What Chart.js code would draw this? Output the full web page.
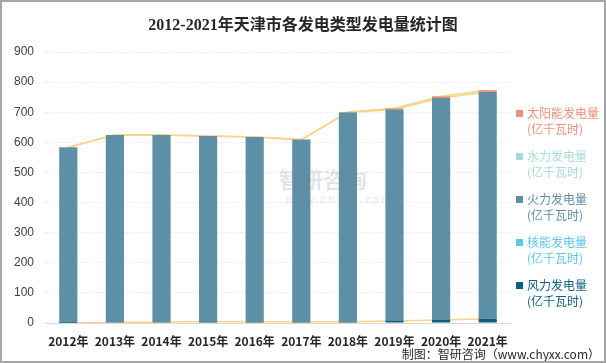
<!DOCTYPE html>
<html>
<head>
<meta charset="utf-8">
<script src="https://cdn.jsdelivr.net/npm/chart.js@4"></script>
<style>
  html, body { margin: 0; padding: 0; background: #fff; }
  #wrap { position: relative; width: 602px; height: 359px; border: 2px solid #a6a6a6; overflow: hidden; }
  #box { position: absolute; left: -2px; top: -2px; width: 606px; height: 363px; }
  #title { position: absolute; left: 0; top: 9px; width: 602px; text-align: center;
    font: bold 16px "Liberation Serif", "Noto Sans CJK SC", serif; color: #262626; }
  #legend { position: absolute; left: 514px; top: 103px; font: 12px "Noto Sans CJK SC", sans-serif; }
  .item { position: relative; height: 43px; padding-left: 11px; line-height: 16px; }
  .item i { position: absolute; left: 0; top: 5px; width: 7px; height: 7px; }
  #foot { position: absolute; right: 4px; top: 343px; font: 12px "Noto Sans CJK SC", sans-serif; color: #262626; }
  #mark { position: absolute; left: 262px; top: 160px; color: rgba(120,135,150,0.22); font: bold 22px "Noto Sans CJK SC", sans-serif; }
  #mark span { display: block; font: 10px "DejaVu Sans", sans-serif; letter-spacing: 2px; margin-left: 22px; }
</style>
</head>
<body>
<div id="wrap">
  <div id="box"><canvas id="chart" width="606" height="363"></canvas></div>
  <div id="title">2012-2021年天津市各发电类型发电量统计图</div>
  <div id="mark">&nbsp;&nbsp;&nbsp;智研咨询<span>www.chyxx.com</span></div>
  <div id="legend"></div>
  <div id="foot">制图：智研咨询（www.chyxx.com）</div>
</div>
<script>
// data (亿千瓦时)
const years = ["2012年", "2013年", "2014年", "2015年", "2016年", "2017年", "2018年", "2019年", "2020年", "2021年"];
const wind = [0.3, 2, 3, 5, 4, 4, 4, 7, 10, 14];
const nuclear = [0, 0, 0, 0, 0, 0, 0, 0, 0, 0];
const thermal = [583.7, 622, 621, 616, 614, 605, 695, 702, 737, 753];
const hydro = [0, 0, 0, 0, 0, 0, 0, 0, 0, 0];
const solar = [0, 0, 0, 0, 0, 0, 2, 4, 6, 6];
const yTicks = [0, 100, 200, 300, 400, 500, 600, 700, 800, 900];

const series = [
  { name: "风力发电量", data: wind, color: "#0b5f80" },
  { name: "核能发电量", data: nuclear, color: "#5bc6ee" },
  { name: "火力发电量", data: thermal, color: "#5d8fa7" },
  { name: "水力发电量", data: hydro, color: "#a3dcd6" },
  { name: "太阳能发电量", data: solar, color: "#f0907a" }
];

// series lines join the top of each stacked segment
const windTop = years.map((_, i) => wind[i] + nuclear[i]);
const thermalTop = years.map((_, i) => windTop[i] + thermal[i] + hydro[i]);
const totalTop = years.map((_, i) => thermalTop[i] + solar[i]);

const barSets = series.map(s => ({
  type: "bar",
  label: s.name,
  data: s.data,
  backgroundColor: s.color,
  stack: "bars",
  order: 0,
  barPercentage: 0.39,
  categoryPercentage: 1
}));

const lineSets = [windTop, thermalTop, totalTop].map((d, k) => ({
  type: "line",
  label: "line" + k,
  data: d,
  borderColor: "#f7d486",
  borderWidth: 1.5,
  pointRadius: 0,
  stack: "line" + k,
  order: 1
}));

new Chart(document.getElementById("chart"), {
  data: { labels: years, datasets: barSets.concat(lineSets) },
  options: {
    responsive: false,
    animation: false,
    layout: { padding: { top: 52, right: 95, left: 0, bottom: 0 } },
    plugins: { legend: { display: false }, tooltip: { enabled: false } },
    scales: {
      x: {
        stacked: true,
        grid: { display: false, drawTicks: false },
        border: { color: "#d9d9d9", width: 1 },
        ticks: { padding: 11, color: "#262626", font: { family: "Noto Sans CJK SC", size: 12, weight: "bold" } },
        afterFit: s => { s.height = 40; }
      },
      y: {
        stacked: true,
        min: 0,
        max: 900,
        afterBuildTicks: s => { s.ticks = yTicks.map(v => ({ value: v })); },
        grid: { color: "#ececec", drawTicks: false },
        border: { display: false, dash: [3, 2] },
        ticks: { padding: 11, color: "#404040", font: { family: "Liberation Sans", size: 12 } },
        afterFit: s => { s.width = 45; }
      }
    }
  }
});

// legend on the right, top entry is the top of the stack
const legend = document.getElementById("legend");
series.slice().reverse().forEach(s => {
  const el = document.createElement("div");
  el.className = "item";
  el.style.color = s.color;
  el.innerHTML = '<i style="background:' + s.color + '"></i>' + s.name + "<br>(亿千瓦时)";
  legend.appendChild(el);
});
</script>
</body>
</html>
